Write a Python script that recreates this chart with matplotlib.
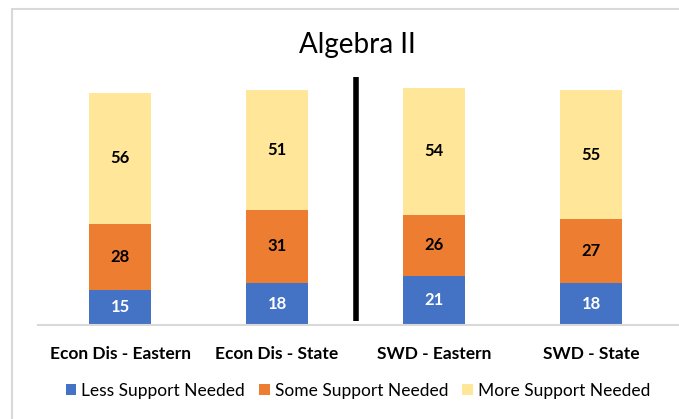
import numpy as np
import matplotlib.pyplot as plt
from matplotlib.patches import Rectangle, Patch

categories = ["Econ Dis - Eastern", "Econ Dis - State", "SWD - Eastern", "SWD - State"]
less_support = [15, 18, 21, 18]
some_support = [28, 31, 26, 27]
more_support = [56, 51, 54, 55]
series_names = ["Less Support Needed", "Some Support Needed", "More Support Needed"]
colors = ["#4472C4", "#ED7D31", "#FFE699"]

plt.rcParams['font.family'] = ['Lato', 'DejaVu Sans']

W, H = 679, 419
fig = plt.figure(figsize=(W / 100, H / 100), dpi=100)

# light grey chart border
fig.patches.append(Rectangle((12 / W, -0.1), 1.2, (H - 9) / H + 0.1, transform=fig.transFigure,
                             fill=False, edgecolor="#D9D9D9", linewidth=1.5))

ax = fig.add_axes([38 / W, 94 / H, (W - 38) / W, 305 / H])
x = np.arange(len(categories))
bottom = np.zeros(len(categories))
for vals, name, c in zip([less_support, some_support, more_support], series_names, colors):
    bars = ax.bar(x, vals, width=0.4, bottom=bottom, color=c, label=name)
    txt_color = "white" if c == "#4472C4" else "black"
    for b, v in zip(bars, vals):
        ax.text(b.get_x() + b.get_width() / 2, b.get_y() + b.get_height() / 2, str(v),
                ha="center", va="center", fontsize=12, fontweight="bold", color=txt_color)
    bottom += np.array(vals)

ax.set_xlim(-(120 - 38) / 157, (W - 120) / 157)
ax.set_ylim(0, 130)
ax.set_xticks(x)
ax.set_xticklabels(categories, fontsize=12.5, fontweight="bold")
ax.tick_params(axis="x", length=0, pad=15)
ax.set_yticks([])
for s in ["top", "right", "left"]:
    ax.spines[s].set_visible(False)
ax.spines["bottom"].set_color("#D9D9D9")
ax.spines["bottom"].set_linewidth(1.5)

# divider between groups
ax.plot([1.5, 1.5], [1.5, 105.5], color="black", linewidth=4, solid_capstyle="butt")

fig.text(357 / W, 1 - 45 / H, "Algebra II", ha="center", va="center", fontsize=20)

handles = [Patch(facecolor=c, label=n) for c, n in zip(colors, series_names)]
fig.legend(handles=handles, loc="center", bbox_to_anchor=(358 / W, 1 - 391 / H), ncol=3,
           frameon=False, fontsize=12.5, handlelength=0.6, handleheight=0.6,
           handletextpad=0.3, columnspacing=0.8)

fig.savefig("out.png", dpi=100)
